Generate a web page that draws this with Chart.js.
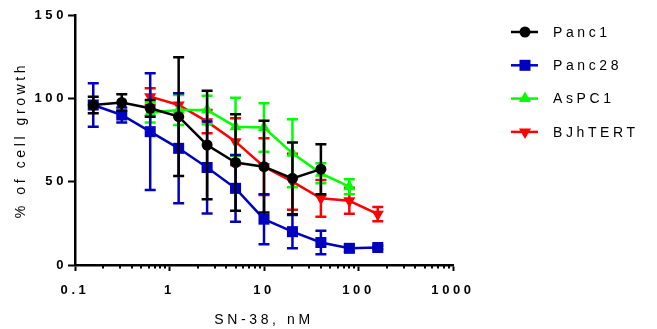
<!DOCTYPE html>
<html>
<head>
<meta charset="utf-8">
<script src="https://cdn.jsdelivr.net/npm/chart.js@4/dist/chart.umd.min.js"></script>
<style>
  body { margin: 0; background: #fff; }
  #wrap { width: 657px; height: 329px; }
</style>
</head>
<body>
<div id="wrap"><canvas id="chart"></canvas></div>
<script>
// SN-38 concentrations, nM
let panc1Conc = [0.156, 0.3125, 0.625, 1.25, 2.5, 5, 10, 20, 40];
let panc1 = [96, 97.5, 94, 89, 72, 61.5, 59, 52, 57.5];
let panc1Err = [5, 5, 5, 35.6, 32.5, 29, 27.5, 21.5, 15];

let panc28Conc = [0.156, 0.3125, 0.625, 1.25, 2.5, 5, 10, 20, 40, 80, 160];
let panc28 = [96, 90, 80, 70, 58.5, 46, 27.5, 20, 13.5, 10, 10.5];
let panc28Err = [13, 4.5, 35, 33, 27.6, 20, 15, 10, 7, 2, 1];

let aspc1Conc = [0.625, 1.25, 2.5, 5, 10, 20, 40, 80];
let aspc1 = [91.5, 93, 93, 83, 82.5, 67, 55, 47];
let aspc1Err = [6, 9, 8.5, 17.4, 14.5, 20.4, 6, 4.5];

let bjhtertConc = [0.625, 1.25, 2.5, 5, 10, 20, 40, 80, 160];
let bjhtert = [101, 96, 86, 74, 59, 50, 40, 38.5, 30.5];
let bjhtertErr = [5, 7, 7, 14, 17, 16.8, 11, 7.8, 4.3];

let yTicks = [0, 50, 100, 150];
let xDecades = [0.1, 1, 10, 100, 1000];
let xLabels = ['0.1', '1', '10', '100', '1000'];

function pts(xs, ys) {
    return ys.map((y, i) => ({ x: xs[i], y: y }));
}

const SPACING = '3.6px';
const FONT = '"Liberation Sans", Arial, sans-serif';

// letter spacing for all canvas text (GraphPad-style)
const spacing = {
    id: 'spacing',
    beforeLayout(chart) { chart.ctx.letterSpacing = SPACING; },
    beforeDraw(chart) { chart.ctx.letterSpacing = SPACING; },
};

// error bars drawn just under each dataset
const errorBars = {
    id: 'errorBars',
    beforeDatasetDraw(chart, args) {
        let ds = chart.data.datasets[args.index];
        if (!ds.errors) return;
        let ctx = chart.ctx;
        let xs = chart.scales.x, ys = chart.scales.y;
        ctx.save();
        ctx.strokeStyle = ds.borderColor;
        ctx.lineWidth = 2.5;
        ds.data.forEach((p, i) => {
            let e = ds.errors[i];
            let x = xs.getPixelForValue(p.x);
            let top = ys.getPixelForValue(p.y + e);
            let bot = ys.getPixelForValue(Math.max(0, p.y - e));
            ctx.beginPath();
            ctx.moveTo(x, top); ctx.lineTo(x, bot);
            ctx.moveTo(x - 5.5, top); ctx.lineTo(x + 5.5, top);
            ctx.moveTo(x - 5.5, bot); ctx.lineTo(x + 5.5, bot);
            ctx.stroke();
        });
        ctx.restore();
    },
};

// minor ticks on the log axis + legend on the right
const extras = {
    id: 'extras',
    afterDraw(chart) {
        let ctx = chart.ctx;
        let xs = chart.scales.x;
        let bottom = chart.chartArea.bottom;
        ctx.save();
        ctx.strokeStyle = '#000';
        ctx.lineWidth = 2;
        xs.ticks.forEach(t => {
            if (t.major) return;
            let x = Math.round(xs.getPixelForValue(t.value));
            ctx.beginPath();
            ctx.moveTo(x, bottom);
            ctx.lineTo(x, bottom + 3.5);
            ctx.stroke();
        });

        // legend
        let y0 = 32, dy = 33.3;
        ctx.font = '14px ' + FONT;
        ctx.letterSpacing = SPACING;
        ctx.textBaseline = 'middle';
        ctx.textAlign = 'left';
        chart.data.datasets.forEach((ds, i) => {
            let y = y0 + i * dy;
            ctx.strokeStyle = ds.borderColor;
            ctx.lineWidth = 2.5;
            ctx.beginPath();
            ctx.moveTo(511, y); ctx.lineTo(538, y);
            ctx.stroke();
            ctx.fillStyle = ds.pointBackgroundColor;
            Chart.helpers.drawPoint(ctx, {
                pointStyle: ds.pointStyle,
                rotation: ds.pointRotation || 0,
                radius: ds.pointRadius,
                borderWidth: 0,
            }, 525, y);
            ctx.fillStyle = '#000';
            ctx.fillText(ds.label, 553, y + 1);
        });
        ctx.restore();
    },
};

function series(label, xs, ys, errs, color, style, radius, rot) {
    return {
        label: label,
        data: pts(xs, ys),
        errors: errs,
        borderColor: color,
        backgroundColor: color,
        pointBackgroundColor: color,
        pointBorderColor: color,
        pointBorderWidth: 0,
        pointStyle: style,
        pointRadius: radius,
        pointRotation: rot || 0,
        borderWidth: 2.5,
        tension: 0,
        fill: false,
    };
}

let chart = new Chart(document.getElementById('chart'), {
    type: 'line',
    data: {
        datasets: [
            series('Panc1', panc1Conc, panc1, panc1Err, '#000000', 'circle', 5.5),
            series('Panc28', panc28Conc, panc28, panc28Err, '#0000C0', 'rect', 7.8),
            series('AsPC1', aspc1Conc, aspc1, aspc1Err, '#00FF00', 'triangle', 7),
            series('BJhTERT', bjhtertConc, bjhtert, bjhtertErr, '#FF0000', 'triangle', 7, 180),
        ],
    },
    options: {
        responsive: true,
        maintainAspectRatio: false,
        animation: false,
        layout: {
            padding: { top: 15, right: 204, left: 0, bottom: 0 },
        },
        scales: {
            x: {
                type: 'logarithmic',
                min: 0.1,
                max: 1000,
                afterFit(scale) { scale.height = 64; },
                afterBuildTicks(scale) {
                    let ticks = [];
                    xDecades.forEach((d, i) => {
                        if (i === xDecades.length - 1) {
                            ticks.push({ value: d, major: true });
                            return;
                        }
                        for (let m = 1; m <= 9; m++) {
                            ticks.push({ value: d * m, major: m === 1 });
                        }
                    });
                    scale.ticks = ticks;
                },
                ticks: {
                    autoSkip: false,
                    maxRotation: 0,
                    padding: 12,
                    color: '#000',
                    font: { family: FONT, size: 13, weight: 'bold' },
                    callback(value) {
                        let i = xDecades.findIndex(d => Math.abs(d - value) < 1e-9);
                        return i >= 0 ? xLabels[i] : '';
                    },
                },
                grid: {
                    drawOnChartArea: false,
                    drawTicks: true,
                    tickLength: 6,
                    tickWidth: 2,
                    tickColor: (c) => (c.tick && c.tick.major ? '#000' : 'rgba(0,0,0,0)'),
                },
                border: { display: true, color: '#000', width: 2.5 },
                title: {
                    display: true,
                    text: 'SN-38, nM',
                    color: '#000',
                    font: { family: FONT, size: 14 },
                    padding: { top: 0, bottom: 0 },
                },
            },
            y: {
                min: 0,
                max: 150,
                afterFit(scale) { scale.width = 75; },
                afterBuildTicks(scale) {
                    scale.ticks = yTicks.map(v => ({ value: v }));
                },
                ticks: {
                    padding: 1,
                    color: '#000',
                    font: { family: FONT, size: 13, weight: 'bold' },
                },
                grid: {
                    drawOnChartArea: false,
                    drawTicks: true,
                    tickLength: 7,
                    tickWidth: 2,
                    tickColor: '#000',
                },
                border: { display: true, color: '#000', width: 2.5 },
                title: {
                    display: true,
                    text: '% of cell growth',
                    color: '#000',
                    font: { family: FONT, size: 14 },
                    padding: { top: 13, bottom: 0 },
                },
            },
        },
        plugins: {
            legend: { display: false },
            tooltip: { enabled: false },
        },
    },
    plugins: [spacing, errorBars, extras],
});
</script>
</body>
</html>
